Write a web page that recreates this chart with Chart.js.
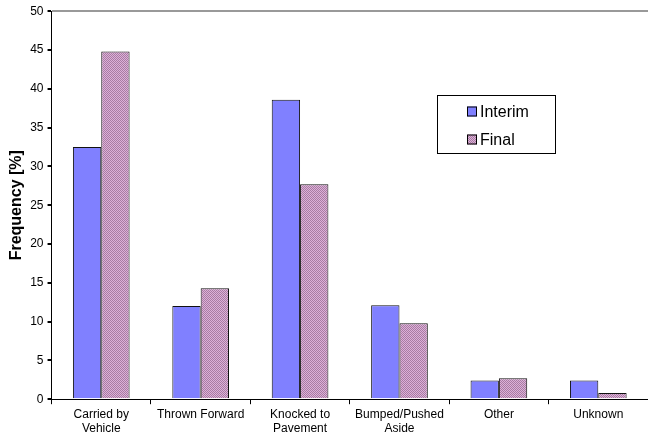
<!DOCTYPE html>
<html>
<head>
<meta charset="utf-8">
<script src="https://cdn.jsdelivr.net/npm/chart.js@4/dist/chart.umd.min.js"></script>
<style>
  html, body { margin: 0; padding: 0; background: #fff; }
  #wrap { width: 648px; height: 441px; }
</style>
</head>
<body>
<div id="wrap"><canvas id="c" width="648" height="441"></canvas></div>
<script>
// Injury mechanism categories and frequencies (%)
const categories = [
  ['Carried by', 'Vehicle'],
  'Thrown Forward',
  ['Knocked to', 'Pavement'],
  ['Bumped/Pushed', 'Aside'],
  'Other',
  'Unknown'
];
const interimValues = [32.5, 12.0, 38.6, 12.1, 2.4, 2.4];
const finalValues = [44.8, 14.3, 27.7, 9.8, 2.7, 0.8];
const yTicks = { min: 0, max: 50, step: 5 };

// Fine dotted fill for the "Final" series
function makePattern() {
  const p = document.createElement('canvas');
  p.width = 2; p.height = 2;
  const g = p.getContext('2d');
  g.fillStyle = '#DDB0D8'; g.fillRect(0, 0, 2, 2);
  g.fillStyle = '#A87CA3'; g.fillRect(0, 0, 1, 1); g.fillRect(1, 1, 1, 1);
  return g.createPattern(p, 'repeat');
}
const ctx = document.getElementById('c').getContext('2d');
const finalFill = makePattern();

const FONT = 'Liberation Sans, Arial, sans-serif';

// Boxed legend drawn inside the plot area
const boxLegend = {
  id: 'boxLegend',
  afterDraw(chart) {
    const c = chart.ctx;
    const x = 437.5, y = 95.5, w = 118, h = 58;
    c.save();
    c.fillStyle = '#fff';
    c.fillRect(x, y, w, h);
    c.strokeStyle = '#000';
    c.lineWidth = 1;
    c.strokeRect(x, y, w, h);
    c.font = '16px ' + FONT;
    c.textBaseline = 'middle';
    chart.data.datasets.forEach((ds, i) => {
      const ry = y + 16 + i * 28;
      c.fillStyle = ds.backgroundColor;
      c.fillRect(467, ry - 5, 10, 10);
      c.strokeStyle = '#000';
      c.strokeRect(467.5, ry - 4.5, 9, 9);
      c.fillStyle = '#000';
      c.fillText(ds.label, 480, ry + 1);
    });
    c.restore();
  }
};

new Chart(ctx, {
  type: 'bar',
  data: {
    labels: categories,
    datasets: [
      {
        label: 'Interim',
        data: interimValues,
        backgroundColor: '#8080FF',
        borderColor: '#111',
        borderWidth: 1
      },
      {
        label: 'Final',
        data: finalValues,
        backgroundColor: finalFill,
        borderColor: '#111',
        borderWidth: 1
      }
    ]
  },
  options: {
    responsive: false,
    animation: false,
    layout: { padding: { top: 3, right: 0, left: 7, bottom: 2 } },
    plugins: {
      legend: { display: false },
      tooltip: { enabled: false }
    },
    datasets: {
      bar: { categoryPercentage: 0.57, barPercentage: 1.0 }
    },
    scales: {
      x: {
        grid: {
          offset: true,
          drawOnChartArea: false,
          color: '#000',
          tickLength: 5
        },
        border: { color: '#000', width: 1 },
        ticks: {
          color: '#000',
          font: { family: FONT, size: 12, lineHeight: 1.2 },
          maxRotation: 0,
          autoSkip: false,
          padding: 3
        }
      },
      y: {
        min: yTicks.min,
        max: yTicks.max,
        ticks: {
          stepSize: yTicks.step,
          color: '#000',
          font: { family: FONT, size: 12 },
          padding: 4
        },
        grid: {
          color: (c) => (c.tick && c.tick.value === yTicks.max ? '#999999' : 'rgba(0,0,0,0)'),
          lineWidth: 2,
          tickColor: '#000',
          tickLength: 4
        },
        border: { color: '#000', width: 1 },
        title: {
          display: true,
          text: 'Frequency [%]',
          color: '#000',
          font: { family: FONT, size: 16, weight: 'bold' },
          padding: { top: 0, bottom: 0 }
        }
      }
    }
  },
  plugins: [boxLegend]
});
</script>
</body>
</html>
